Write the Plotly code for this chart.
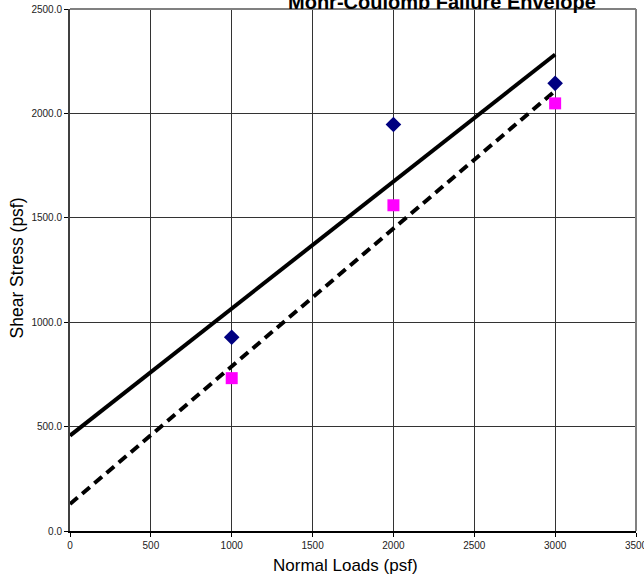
import plotly.graph_objects as go

# Data
normal_loads = [1000, 2000, 3000]
shear_peak = [928, 1947, 2144]
shear_residual = [732, 1560, 2048]

envelope_x = [0, 3000]
envelope_peak = [457, 2282]
envelope_residual = [129, 2108]

x_ticks = [0, 500, 1000, 1500, 2000, 2500, 3000, 3500]
y_ticks = [0, 500, 1000, 1500, 2000, 2500]

fig = go.Figure()

fig.add_trace(go.Scatter(x=envelope_x, y=envelope_peak, mode="lines",
                         line=dict(color="black", width=4), showlegend=False))
fig.add_trace(go.Scatter(x=envelope_x, y=envelope_residual, mode="lines",
                         line=dict(color="black", width=4, dash="10px,6px"), showlegend=False))
fig.add_trace(go.Scatter(x=normal_loads, y=shear_peak, mode="markers",
                         marker=dict(symbol="diamond", color="#000080", size=12), showlegend=False))
fig.add_trace(go.Scatter(x=normal_loads, y=shear_residual, mode="markers",
                         marker=dict(symbol="square", color="#FF00FF", size=12), showlegend=False))

tick_font = dict(family="Liberation Sans Narrow, Arial Narrow, Liberation Sans", size=10, color="#222")

fig.update_layout(
    width=644, height=580,
    margin=dict(l=70, r=8, t=8.5, b=49, pad=0),
    paper_bgcolor="white", plot_bgcolor="white",
    font=dict(family="Liberation Sans, Arial", color="black"),
    xaxis=dict(range=[0, 3500], tickvals=x_ticks, ticktext=[str(v) for v in x_ticks],
               showgrid=True, gridcolor="#333333", gridwidth=1,
               showline=True, linecolor="black", linewidth=2, mirror=False,
               ticks="outside", ticklen=4, tickcolor="black", tickfont=tick_font,
               ticklabeloverflow="allow", automargin=False,
               zeroline=False),
    yaxis=dict(range=[0, 2500], tickvals=y_ticks, ticktext=[f"{v:.1f}" for v in y_ticks],
               showgrid=True, gridcolor="#333333", gridwidth=1,
               showline=True, linecolor="#404040", linewidth=2, mirror=False,
               ticks="outside", ticklen=4, tickcolor="black", tickfont=tick_font,
               ticklabeloverflow="allow", automargin=False,
               zeroline=False),
    shapes=[
        dict(type="line", xref="paper", yref="paper", x0=0, x1=1, y0=1, y1=1,
             line=dict(color="#808080", width=2)),
        dict(type="line", xref="paper", yref="paper", x0=1, x1=1, y0=0, y1=1,
             line=dict(color="#808080", width=2)),
    ],
    annotations=[
        dict(text="<b>Mohr-Coulomb Failure Envelope</b>", xref="paper", yref="paper",
             x=0.657, y=1.013, xanchor="center", yanchor="middle", showarrow=False,
             font=dict(size=20, color="black")),
        dict(text="Normal Loads (psf)", xref="paper", yref="paper",
             x=0.487, y=-0.067, xanchor="center", yanchor="middle", showarrow=False,
             font=dict(size=17, color="black")),
        dict(text="Shear Stress (psf)", xref="paper", yref="paper", textangle=-90,
             x=-0.0936, y=0.503, xanchor="center", yanchor="middle", showarrow=False,
             font=dict(size=17.5, color="black")),
    ],
)

fig.write_html("out.html", config={"displayModeBar": False},
               post_script="document.body.style.margin='0';")
